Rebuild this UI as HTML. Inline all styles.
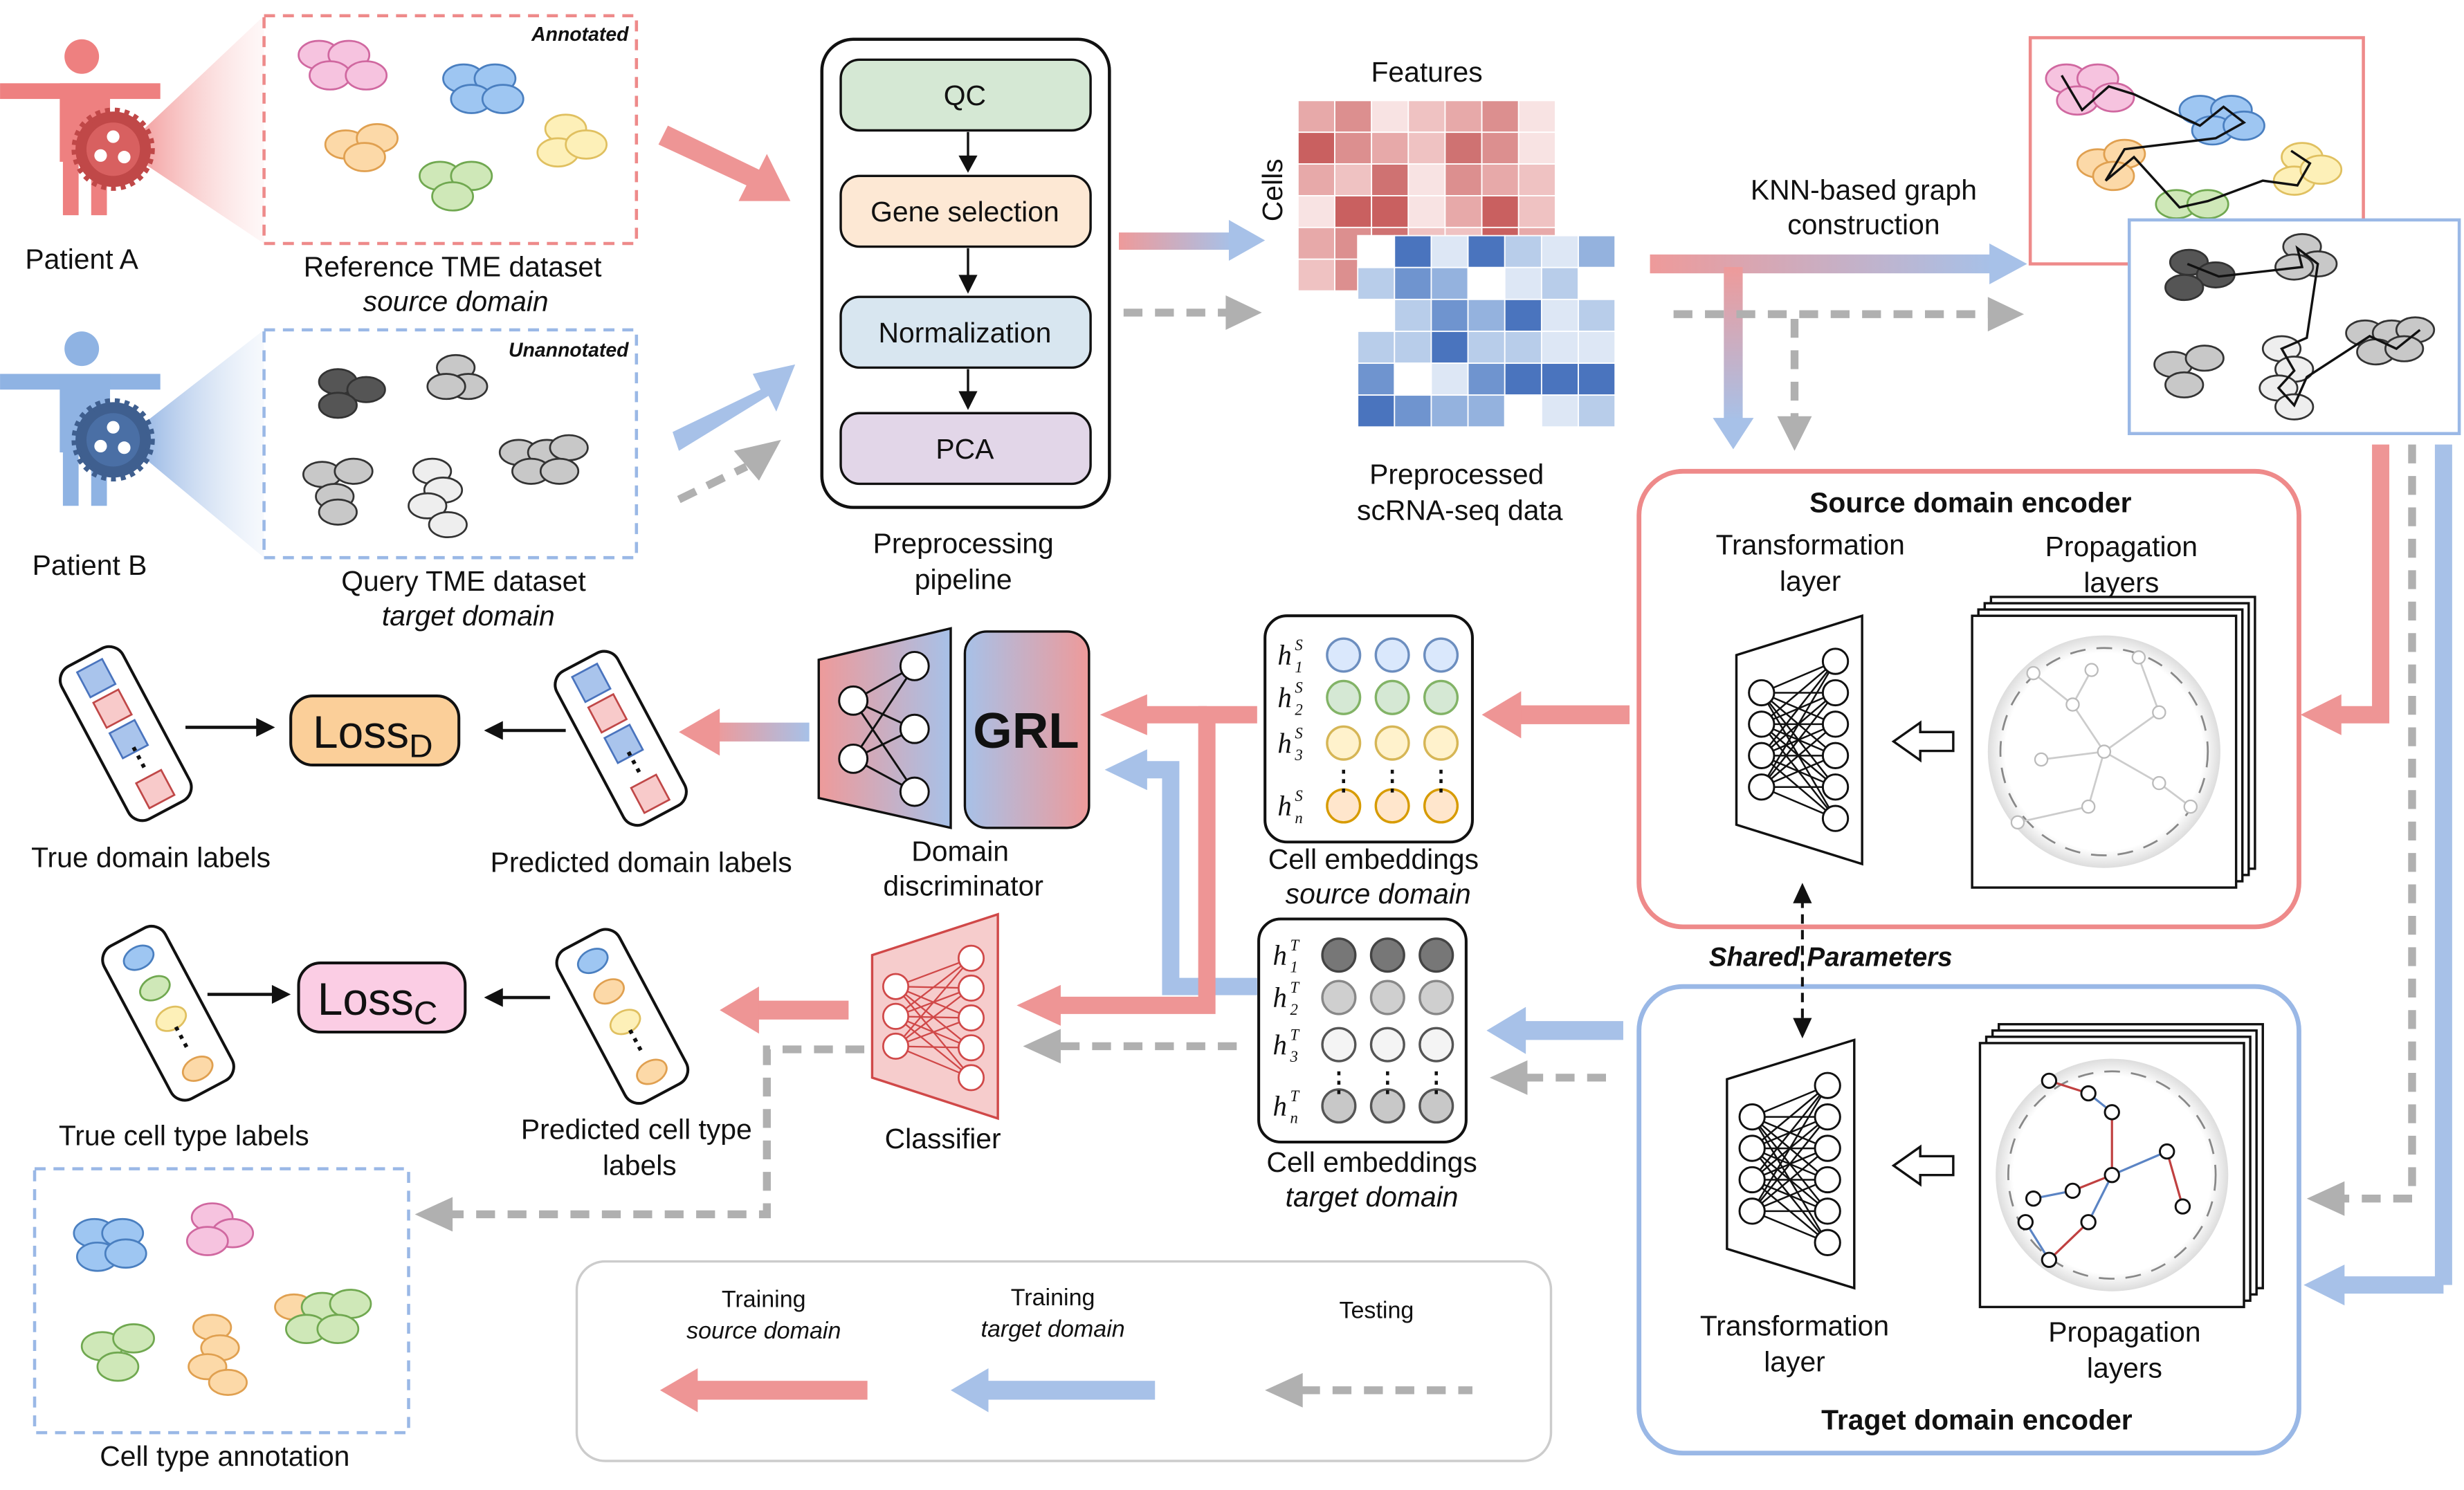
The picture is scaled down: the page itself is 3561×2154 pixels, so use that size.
<!DOCTYPE html>
<html><head><meta charset="utf-8"><style>
html,body{margin:0;padding:0;background:#fff}
svg{display:block}
text{font-family:"Liberation Sans",sans-serif;fill:#111}
.t{font-size:18px;text-anchor:middle}
.i{font-style:italic}
.m{font-family:"Liberation Serif",serif;font-style:italic;font-size:18px}
</style></head><body>
<svg width="3561" height="2154" viewBox="0 0 1568 948.5" xmlns="http://www.w3.org/2000/svg">
<defs>
<linearGradient id="pb" x1="0" x2="1"><stop offset="0" stop-color="#ee9a9a"/><stop offset="1" stop-color="#a7c1e8"/></linearGradient>
<linearGradient id="bp" x1="0" x2="1"><stop offset="0" stop-color="#a7c1e8"/><stop offset="1" stop-color="#ee9a9a"/></linearGradient>
<linearGradient id="pbv" x1="0" y1="0" x2="0" y2="1"><stop offset="0" stop-color="#ee9a9a"/><stop offset="1" stop-color="#a7c1e8"/></linearGradient>
<linearGradient id="fanP" x1="0" x2="1"><stop offset="0" stop-color="#f08a8a"/><stop offset="1" stop-color="#fde6e6" stop-opacity="0.3"/></linearGradient>
<linearGradient id="fanB" x1="0" x2="1"><stop offset="0" stop-color="#7fa6de"/><stop offset="1" stop-color="#e3ecf8" stop-opacity="0.3"/></linearGradient>
<radialGradient id="glow"><stop offset="0.85" stop-color="#fff"/><stop offset="1" stop-color="#ddd"/></radialGradient>
</defs>

<!-- Patient A -->
<g fill="#ee8080">
<circle cx="52" cy="36" r="11"/>
<rect x="0" y="53" width="102" height="10"/>
<rect x="38" y="53" width="32" height="50"/>
<rect x="40" y="100" width="10" height="37"/><rect x="58" y="100" width="10" height="37"/>
</g>
<polygon points="78,95 168,10 168,155" fill="url(#fanP)"/>
<circle cx="72" cy="95" r="24" fill="#c04848" stroke="#c04848" stroke-width="5" stroke-dasharray="3 3"/>
<circle cx="72" cy="95" r="17" fill="#d86060"/>
<circle cx="72" cy="87" r="4" fill="#fff"/><circle cx="64" cy="99" r="4" fill="#fff"/><circle cx="79" cy="100" r="4" fill="#fff"/>
<text class="t" x="52" y="171">Patient A</text>
<!-- Patient B -->
<g fill="#8fb3e3">
<circle cx="52" cy="222" r="11"/>
<rect x="0" y="238" width="102" height="10"/>
<rect x="38" y="238" width="32" height="50"/>
<rect x="40" y="285" width="10" height="37"/><rect x="58" y="285" width="10" height="37"/>
</g>
<polygon points="78,280 168,210 168,355" fill="url(#fanB)"/>
<circle cx="72" cy="280" r="24" fill="#3f5f8f" stroke="#3f5f8f" stroke-width="5" stroke-dasharray="3 3"/>
<circle cx="72" cy="280" r="17" fill="#4a6fa5"/>
<circle cx="72" cy="272" r="4" fill="#fff"/><circle cx="64" cy="284" r="4" fill="#fff"/><circle cx="79" cy="285" r="4" fill="#fff"/>
<text class="t" x="57" y="366">Patient B</text>

<!-- Reference box -->
<rect x="168" y="10" width="237" height="145" fill="#fff" stroke="#ee8a8a" stroke-width="2" stroke-dasharray="7 5"/>
<text x="400" y="26" font-size="12.5" font-weight="bold" font-style="italic" text-anchor="end">Annotated</text>
<g stroke-width="1.2">
<g fill="#f6c3df" stroke="#d068a0"><ellipse cx="203" cy="35" rx="13" ry="9"/><ellipse cx="222" cy="35" rx="13" ry="9"/><ellipse cx="210" cy="48" rx="13" ry="9"/><ellipse cx="233" cy="48" rx="13" ry="9"/></g>
<g fill="#9ec6f2" stroke="#4a7fc0"><ellipse cx="295" cy="50" rx="13" ry="9"/><ellipse cx="315" cy="50" rx="13" ry="9"/><ellipse cx="300" cy="63" rx="13" ry="9"/><ellipse cx="320" cy="63" rx="13" ry="9"/></g>
<g fill="#fcd9a8" stroke="#e0a050"><ellipse cx="220" cy="92" rx="13" ry="9"/><ellipse cx="240" cy="88" rx="13" ry="9"/><ellipse cx="232" cy="100" rx="13" ry="9"/></g>
<g fill="#fdf0b8" stroke="#e0c060"><ellipse cx="360" cy="82" rx="13" ry="9"/><ellipse cx="355" cy="97" rx="13" ry="9"/><ellipse cx="373" cy="92" rx="13" ry="9"/></g>
<g fill="#cfe8b8" stroke="#70a850"><ellipse cx="280" cy="112" rx="13" ry="9"/><ellipse cx="300" cy="112" rx="13" ry="9"/><ellipse cx="288" cy="125" rx="13" ry="9"/></g>
</g>
<text class="t" x="288" y="176">Reference TME dataset</text>
<text class="t i" x="290" y="198">source domain</text>

<!-- Query box -->
<rect x="168" y="210" width="237" height="145" fill="#fff" stroke="#9ab8e6" stroke-width="2" stroke-dasharray="7 5"/>
<text x="400" y="227" font-size="12.5" font-weight="bold" font-style="italic" text-anchor="end">Unannotated</text>
<g stroke-width="1.2" stroke="#333">
<g fill="#555"><ellipse cx="215" cy="243" rx="12" ry="8"/><ellipse cx="233" cy="248" rx="12" ry="8"/><ellipse cx="215" cy="258" rx="12" ry="8"/></g>
<g fill="#c8c8c8"><ellipse cx="290" cy="234" rx="12" ry="8"/><ellipse cx="298" cy="246" rx="12" ry="8"/><ellipse cx="284" cy="246" rx="12" ry="8"/></g>
<g fill="#c8c8c8"><ellipse cx="205" cy="302" rx="12" ry="8"/><ellipse cx="225" cy="300" rx="12" ry="8"/><ellipse cx="213" cy="316" rx="12" ry="8"/><ellipse cx="215" cy="326" rx="12" ry="8"/></g>
<g fill="#eee"><ellipse cx="275" cy="300" rx="12" ry="8"/><ellipse cx="282" cy="312" rx="12" ry="8"/><ellipse cx="272" cy="322" rx="12" ry="8"/><ellipse cx="285" cy="334" rx="12" ry="8"/></g>
<g fill="#c8c8c8"><ellipse cx="330" cy="288" rx="12" ry="8"/><ellipse cx="348" cy="288" rx="12" ry="8"/><ellipse cx="362" cy="285" rx="12" ry="8"/><ellipse cx="338" cy="300" rx="12" ry="8"/><ellipse cx="356" cy="300" rx="12" ry="8"/></g>
</g>
<text class="t" x="295" y="376">Query TME dataset</text>
<text class="t i" x="298" y="398">target domain</text>

<!-- arrows to pipeline -->
<polygon points="425,80 483,108 488,98 503,128 470,128 475,118 419,92" fill="#ee9595"/>
<polygon points="428,275 484,248 479,238 506,232 494,262 489,252 432,287" fill="#a7c1e8"/>
<line x1="432" y1="318" x2="475" y2="297" stroke="#b0b0b0" stroke-width="5" stroke-dasharray="12 8"/>
<polygon points="467,287 497,280 483,306" fill="#b0b0b0"/>

<!-- pipeline -->
<rect x="523" y="25" width="183" height="298" rx="20" fill="#fff" stroke="#111" stroke-width="2"/>
<rect x="535" y="38" width="159" height="45" rx="12" fill="#d5e8d4" stroke="#111" stroke-width="1.5"/>
<text class="t" x="614" y="67" font-size="19">QC</text>
<rect x="535" y="112" width="159" height="45" rx="12" fill="#fde8d4" stroke="#111" stroke-width="1.5"/>
<text class="t" x="614" y="141" font-size="19">Gene selection</text>
<rect x="535" y="189" width="159" height="45" rx="12" fill="#d8e6f0" stroke="#111" stroke-width="1.5"/>
<text class="t" x="614" y="218" font-size="19">Normalization</text>
<rect x="535" y="263" width="159" height="45" rx="12" fill="#e2d6e8" stroke="#111" stroke-width="1.5"/>
<text class="t" x="614" y="292" font-size="19">PCA</text>
<g stroke="#111" stroke-width="1.5"><line x1="616" y1="84" x2="616" y2="102"/><line x1="616" y1="158" x2="616" y2="178"/><line x1="616" y1="235" x2="616" y2="252"/></g>
<g fill="#111"><polygon points="610,99 622,99 616,110"/><polygon points="610,175 622,175 616,187"/><polygon points="610,249 622,249 616,261"/></g>
<text class="t" x="613" y="352">Preprocessing</text>
<text class="t" x="613" y="375">pipeline</text>

<!-- to heatmap -->
<rect x="712" y="148" width="72" height="11" fill="url(#pb)"/>
<polygon points="782,140 805,153 782,166" fill="#a7c1e8"/>
<line x1="715" y1="199" x2="783" y2="199" stroke="#b0b0b0" stroke-width="5" stroke-dasharray="12 8"/>
<polygon points="780,188 803,199 780,210" fill="#b0b0b0"/>

<!-- heatmaps -->
<g stroke="#fff" stroke-width="0.8">
<g id="hp"></g>
<g id="hb"></g>
</g>
<text class="t" x="908" y="52">Features</text>
<text class="t" x="816" y="121" transform="rotate(-90 816 121)">Cells</text>
<text class="t" x="927" y="308">Preprocessed</text>
<text class="t" x="929" y="331">scRNA-seq data</text>

<!-- KNN -->
<text class="t" x="1186" y="127">KNN-based graph</text>
<text class="t" x="1186" y="149">construction</text>
<rect x="1050" y="162" width="218" height="12" fill="url(#pb)"/>
<polygon points="1266,155 1290,168 1266,181" fill="#a7c1e8"/>
<rect x="1097" y="170" width="12" height="98" fill="url(#pbv)"/>
<polygon points="1090,266 1116,266 1103,286" fill="#a7c1e8"/>
<line x1="1065" y1="200" x2="1268" y2="200" stroke="#b0b0b0" stroke-width="5" stroke-dasharray="12 8"/>
<polygon points="1265,189 1288,200 1265,211" fill="#b0b0b0"/>
<line x1="1142" y1="203" x2="1142" y2="268" stroke="#b0b0b0" stroke-width="5" stroke-dasharray="12 8"/>
<polygon points="1131,265 1153,265 1142,287" fill="#b0b0b0"/>

<!-- graph boxes -->
<rect x="1292" y="24" width="212" height="144" fill="#fff" stroke="#ee8a8a" stroke-width="2"/>
<g stroke-width="1.2">
<g fill="#f6c3df" stroke="#d068a0"><ellipse cx="1315" cy="50" rx="13" ry="9"/><ellipse cx="1335" cy="50" rx="13" ry="9"/><ellipse cx="1322" cy="64" rx="13" ry="9"/><ellipse cx="1345" cy="62" rx="13" ry="9"/></g>
<g fill="#9ec6f2" stroke="#4a7fc0"><ellipse cx="1400" cy="70" rx="13" ry="9"/><ellipse cx="1420" cy="70" rx="13" ry="9"/><ellipse cx="1408" cy="83" rx="13" ry="9"/><ellipse cx="1428" cy="80" rx="13" ry="9"/></g>
<g fill="#fcd9a8" stroke="#e0a050"><ellipse cx="1335" cy="104" rx="13" ry="9"/><ellipse cx="1352" cy="98" rx="13" ry="9"/><ellipse cx="1345" cy="112" rx="13" ry="9"/></g>
<g fill="#fdf0b8" stroke="#e0c060"><ellipse cx="1465" cy="100" rx="13" ry="9"/><ellipse cx="1460" cy="115" rx="13" ry="9"/><ellipse cx="1477" cy="108" rx="13" ry="9"/></g>
<g fill="#cfe8b8" stroke="#70a850"><ellipse cx="1385" cy="130" rx="13" ry="9"/><ellipse cx="1405" cy="130" rx="13" ry="9"/></g>
</g>
<polyline points="1312,48 1325,70 1342,55 1358,60 1400,80 1415,68 1428,78 1410,88 1352,95 1340,115 1358,100 1387,132 1405,128 1440,115 1462,118 1470,104 1458,96" fill="none" stroke="#111" stroke-width="1.5"/>
<rect x="1355" y="140" width="210" height="136" fill="#fff" stroke="#9ab8e6" stroke-width="2"/>
<g stroke="#333" stroke-width="1.2">
<g fill="#555"><ellipse cx="1393" cy="167" rx="12" ry="8"/><ellipse cx="1410" cy="175" rx="12" ry="8"/><ellipse cx="1390" cy="183" rx="12" ry="8"/></g>
<g fill="#c8c8c8"><ellipse cx="1465" cy="157" rx="12" ry="8"/><ellipse cx="1475" cy="168" rx="12" ry="8"/><ellipse cx="1460" cy="170" rx="12" ry="8"/></g>
<g fill="#c8c8c8"><ellipse cx="1383" cy="232" rx="12" ry="8"/><ellipse cx="1403" cy="228" rx="12" ry="8"/><ellipse cx="1390" cy="245" rx="12" ry="8"/></g>
<g fill="#eee"><ellipse cx="1452" cy="222" rx="12" ry="8"/><ellipse cx="1460" cy="235" rx="12" ry="8"/><ellipse cx="1450" cy="247" rx="12" ry="8"/><ellipse cx="1460" cy="259" rx="12" ry="8"/></g>
<g fill="#c8c8c8"><ellipse cx="1505" cy="212" rx="12" ry="8"/><ellipse cx="1522" cy="212" rx="12" ry="8"/><ellipse cx="1537" cy="210" rx="12" ry="8"/><ellipse cx="1512" cy="224" rx="12" ry="8"/><ellipse cx="1530" cy="222" rx="12" ry="8"/></g>
</g>
<polyline points="1392,168 1412,176 1465,170 1462,158 1475,168 1468,215 1452,222 1460,236 1450,247 1460,258 1468,240 1508,214 1525,222 1540,210 M1395,185 1398,230 1390,244 1403,228" fill="none" stroke="#111" stroke-width="1.5"/>

<!-- right connectors -->
<line x1="1555" y1="283" x2="1555" y2="818" stroke="#a7c1e8" stroke-width="11"/>
<line x1="1555" y1="818" x2="1490" y2="818" stroke="#a7c1e8" stroke-width="11"/>
<polygon points="1492,805 1466,818 1492,831" fill="#a7c1e8"/>
<line x1="1535" y1="283" x2="1535" y2="763" stroke="#b0b0b0" stroke-width="5" stroke-dasharray="12 8"/>
<line x1="1535" y1="763" x2="1490" y2="763" stroke="#b0b0b0" stroke-width="5" stroke-dasharray="12 8"/>
<polygon points="1492,752 1468,763 1492,774" fill="#b0b0b0"/>
<polyline points="1515,283 1515,455 1488,455" fill="none" stroke="#ee9595" stroke-width="11"/>
<polygon points="1490,442 1464,455 1490,468" fill="#ee9595"/>

<!-- Source encoder -->
<rect x="1043" y="300" width="420" height="290" rx="28" fill="#fff" stroke="#ee8a8a" stroke-width="3"/>
<text class="t" x="1254" y="326" font-weight="bold">Source domain encoder</text>
<text class="t" x="1152" y="353">Transformation</text><text class="t" x="1152" y="376">layer</text>
<text class="t" x="1350" y="354">Propagation</text><text class="t" x="1350" y="377">layers</text>
<g id="nn1"></g>
<polygon points="1205,472 1222,460 1222,466 1243,466 1243,478 1222,478 1222,484" fill="#fff" stroke="#111" stroke-width="1.5"/>
<g id="pl1"></g>

<!-- Target encoder -->
<rect x="1043" y="628" width="420" height="297" rx="28" fill="#fff" stroke="#9ab8e6" stroke-width="3"/>
<text class="t" x="1142" y="850">Transformation</text><text class="t" x="1142" y="873">layer</text>
<text class="t" x="1352" y="854">Propagation</text><text class="t" x="1352" y="877">layers</text>
<text class="t" x="1258" y="910" font-weight="bold">Traget domain encoder</text>
<g id="nn2"></g>
<polygon points="1205,742 1222,730 1222,736 1243,736 1243,748 1222,748 1222,754" fill="#fff" stroke="#111" stroke-width="1.5"/>
<g id="pl2"></g>

<!-- shared -->
<text x="1165" y="615" font-size="17" font-weight="bold" font-style="italic" text-anchor="middle">Shared Parameters</text>
<line x1="1147" y1="572" x2="1147" y2="650" stroke="#111" stroke-width="1.8" stroke-dasharray="6 4"/>
<polygon points="1141,575 1153,575 1147,562" fill="#111"/><polygon points="1141,648 1153,648 1147,661" fill="#111"/>

<!-- encoder to embeddings -->
<rect x="965" y="449" width="72" height="12" fill="#ee9595"/>
<polygon points="968,440 943,455 968,470" fill="#ee9595"/>
<rect x="968" y="650" width="65" height="12" fill="#a7c1e8"/>
<polygon points="971,641 946,656 971,671" fill="#a7c1e8"/>
<line x1="970" y1="686" x2="1030" y2="686" stroke="#b0b0b0" stroke-width="5" stroke-dasharray="12 8"/>
<polygon points="972,675 948,686 972,697" fill="#b0b0b0"/>

<!-- embeddings -->
<rect x="805" y="392" width="132" height="144" rx="14" fill="#fff" stroke="#111" stroke-width="1.8"/>
<rect x="801" y="585" width="132" height="142" rx="14" fill="#fff" stroke="#111" stroke-width="1.8"/>
<g id="emb"></g>
<text class="t" x="874" y="553">Cell embeddings</text>
<text class="t i" x="877" y="575">source domain</text>
<text class="t" x="873" y="746">Cell embeddings</text>
<text class="t i" x="873" y="768">target domain</text>

<!-- pink & blue into GRL / classifier -->
<polyline points="800,628 745,628 745,490 728,490" fill="none" stroke="#a7c1e8" stroke-width="11"/>
<polygon points="730,477 703,490 730,503" fill="#a7c1e8"/>
<polyline points="800,455 768,455 768,640 672,640" fill="none" stroke="#ee9595" stroke-width="11"/>
<line x1="768" y1="455" x2="728" y2="455" stroke="#ee9595" stroke-width="11"/>
<polygon points="730,442 700,455 730,468" fill="#ee9595"/>
<polygon points="675,627 647,640 675,653" fill="#ee9595"/>
<line x1="675" y1="666" x2="790" y2="666" stroke="#b0b0b0" stroke-width="5" stroke-dasharray="12 8"/>
<polygon points="675,655 651,666 675,677" fill="#b0b0b0"/>

<!-- GRL & discriminator -->
<rect x="614" y="402" width="79" height="125" rx="14" fill="url(#bp)" stroke="#111" stroke-width="1.5"/>
<text x="653" y="476" font-size="32" font-weight="bold" text-anchor="middle">GRL</text>
<polygon points="521,420 605,400 605,527 521,508" fill="url(#pb)" stroke="#111" stroke-width="1.5"/>
<g stroke="#111" stroke-width="1.3"><line x1="543" y1="446" x2="582" y2="424"/><line x1="543" y1="446" x2="582" y2="464"/><line x1="543" y1="446" x2="582" y2="504"/><line x1="543" y1="483" x2="582" y2="424"/><line x1="543" y1="483" x2="582" y2="464"/><line x1="543" y1="483" x2="582" y2="504"/></g>
<g fill="#fff" stroke="#111" stroke-width="1.3"><circle cx="543" cy="446" r="9"/><circle cx="543" cy="483" r="9"/><circle cx="582" cy="424" r="9"/><circle cx="582" cy="464" r="9"/><circle cx="582" cy="504" r="9"/></g>
<text class="t" x="611" y="548">Domain</text><text class="t" x="613" y="570">discriminator</text>

<!-- classifier -->
<polygon points="555,608 635,582 635,712 555,686" fill="#f6cccc" stroke="#d04848" stroke-width="1.5"/>
<g id="cls"></g>
<text class="t" x="600" y="731">Classifier</text>

<!-- to predicted -->
<rect x="455" y="460" width="60" height="12" fill="url(#pb)"/>
<polygon points="458,451 432,466 458,481" fill="#ee9595"/>
<rect x="480" y="637" width="60" height="12" fill="#ee9595"/>
<polygon points="483,628 458,643 483,658" fill="#ee9595"/>
<polyline points="550,668 488,668 488,773 285,773" fill="none" stroke="#b0b0b0" stroke-width="5" stroke-dasharray="12 8"/>
<polygon points="288,762 264,773 288,784" fill="#b0b0b0"/>

<!-- capsules -->
<g id="caps"></g>
<rect x="185" y="443" width="107" height="44" rx="14" fill="#fbcf99" stroke="#111" stroke-width="1.8"/>
<text x="199" y="476" font-size="29">Loss<tspan font-size="21" dy="6">D</tspan></text>
<rect x="190" y="613" width="106" height="44" rx="14" fill="#fbcde4" stroke="#111" stroke-width="1.8"/>
<text x="202" y="646" font-size="29">Loss<tspan font-size="21" dy="6">C</tspan></text>
<g stroke="#111" stroke-width="2"><line x1="118" y1="463" x2="165" y2="463"/><line x1="360" y1="465" x2="318" y2="465"/><line x1="132" y1="633" x2="175" y2="633"/><line x1="350" y1="635" x2="318" y2="635"/></g>
<g fill="#111"><polygon points="163,457 175,463 163,469"/><polygon points="320,459 308,465 320,471"/><polygon points="173,627 185,633 173,639"/><polygon points="320,629 308,635 320,641"/></g>
<text class="t" x="96" y="552">True domain labels</text>
<text class="t" x="408" y="555">Predicted domain labels</text>
<text class="t" x="117" y="729">True cell type labels</text>
<text class="t" x="405" y="725">Predicted cell type</text>
<text class="t" x="407" y="748">labels</text>

<!-- annotation box -->
<rect x="22" y="744" width="238" height="168" fill="#fff" stroke="#9ab8e6" stroke-width="2" stroke-dasharray="7 5"/>
<g stroke-width="1.2">
<g fill="#9ec6f2" stroke="#4a7fc0"><ellipse cx="60" cy="785" rx="13" ry="9"/><ellipse cx="78" cy="785" rx="13" ry="9"/><ellipse cx="62" cy="800" rx="13" ry="9"/><ellipse cx="80" cy="798" rx="13" ry="9"/></g>
<g fill="#f6c3df" stroke="#d068a0"><ellipse cx="135" cy="775" rx="13" ry="9"/><ellipse cx="148" cy="785" rx="13" ry="9"/><ellipse cx="132" cy="790" rx="13" ry="9"/></g>
<g fill="#cfe8b8" stroke="#70a850"><ellipse cx="65" cy="857" rx="13" ry="9"/><ellipse cx="85" cy="852" rx="13" ry="9"/><ellipse cx="75" cy="870" rx="13" ry="9"/></g>
<g fill="#fcd9a8" stroke="#e0a050"><ellipse cx="135" cy="845" rx="12" ry="8"/><ellipse cx="140" cy="858" rx="12" ry="8"/><ellipse cx="132" cy="870" rx="12" ry="8"/><ellipse cx="145" cy="880" rx="12" ry="8"/></g>
<g fill="#fcd9a8" stroke="#e0a050"><ellipse cx="187" cy="832" rx="12" ry="8"/></g>
<g fill="#cfe8b8" stroke="#70a850"><ellipse cx="205" cy="832" rx="13" ry="9"/><ellipse cx="223" cy="830" rx="13" ry="9"/><ellipse cx="195" cy="846" rx="13" ry="9"/><ellipse cx="215" cy="846" rx="13" ry="9"/></g>
</g>
<text class="t" x="143" y="933">Cell type annotation</text>

<!-- legend -->
<rect x="367" y="803" width="620" height="127" rx="18" fill="#fff" stroke="#ccc" stroke-width="1.5"/>
<text x="486" y="832" font-size="15" text-anchor="middle">Training</text>
<text x="486" y="852" font-size="15" font-style="italic" text-anchor="middle">source domain</text>
<text x="670" y="831" font-size="15" text-anchor="middle">Training</text>
<text x="670" y="851" font-size="15" font-style="italic" text-anchor="middle">target domain</text>
<text x="876" y="839" font-size="15" text-anchor="middle">Testing</text>
<rect x="440" y="879" width="112" height="12" fill="#ee9595"/>
<polygon points="444,871 420,885 444,899" fill="#ee9595"/>
<rect x="625" y="879" width="110" height="12" fill="#a7c1e8"/>
<polygon points="629,871 605,885 629,899" fill="#a7c1e8"/>
<line x1="828" y1="885" x2="937" y2="885" stroke="#b0b0b0" stroke-width="5" stroke-dasharray="12 8"/>
<polygon points="829,874 805,885 829,896" fill="#b0b0b0"/>
</svg>
<script>
const NS="http://www.w3.org/2000/svg";
function el(p,t,a){const e=document.createElementNS(NS,t);for(const k in a)e.setAttribute(k,a[k]);p.appendChild(e);return e;}
let seed=7;function rnd(){seed=(seed*9301+49297)%233280;return seed/233280;}
const pinks=["#f8e3e3","#efc2c2","#e7a9a9","#dc8f8f","#cf7272","#c96060"];
const blues=["#ffffff","#dde7f5","#b8cdea","#94b2de","#6f94cf","#4a74be"];
const hp=document.getElementById("hp"),hb=document.getElementById("hb");
for(let r=0;r<6;r++)for(let c=0;c<7;c++)el(hp,"rect",{x:826+c*23.4,y:64+r*20.2,width:23.4,height:20.2,fill:pinks[Math.floor(rnd()*6)]});
for(let r=0;r<6;r++)for(let c=0;c<7;c++)el(hb,"rect",{x:864+c*23.4,y:150+r*20.3,width:23.4,height:20.3,fill:blues[Math.floor(rnd()*6)]});
function nn(g,x0,y0,x1,y1){
 el(g,"polygon",{points:`${x0},${y0+25} ${x1},${y0} ${x1},${y1} ${x0},${y1-25}`,fill:"#fff",stroke:"#111","stroke-width":1.5});
 const L=[],R=[];const cy=(y0+y1)/2;
 for(let i=0;i<4;i++)L.push([x0+16,cy-30+i*20]);
 for(let i=0;i<6;i++)R.push([x1-17,cy-50+i*20]);
 L.forEach(a=>R.forEach(b=>el(g,"line",{x1:a[0],y1:a[1],x2:b[0],y2:b[1],stroke:"#111","stroke-width":1.1})));
 L.concat(R).forEach(p=>el(g,"circle",{cx:p[0],cy:p[1],r:8,fill:"#fff",stroke:"#111","stroke-width":1.3}));
}
nn(document.getElementById("nn1"),1105,392,1185,550);
nn(document.getElementById("nn2"),1099,662,1180,820);
function pl(g,x,y,w,h){
 for(let i=3;i>=0;i--)el(g,"rect",{x:x+i*4,y:y-i*4,width:w,height:h,fill:"#fff",stroke:"#111","stroke-width":1.5});
 const cx=x+w/2,cy=y+h/2;
 el(g,"circle",{cx:cx,cy:cy,r:Math.min(w,h)/2-10,fill:"url(#glow)"});
 el(g,"circle",{cx:cx,cy:cy,r:Math.min(w,h)/2-18,fill:"none",stroke:"#888","stroke-width":1.2,"stroke-dasharray":"10 7"});
 return [cx,cy];
}
let [c1x,c1y]=pl(document.getElementById("pl1"),1255,392,168,173);
{const g=document.getElementById("pl1");const N=[[-45,-50],[-20,-30],[-8,-52],[0,0],[35,-25],[-40,5],[-10,35],[35,20],[-55,45],[55,35],[22,-60]];
 const E=[[0,1],[1,2],[1,3],[3,4],[3,5],[3,6],[6,8],[3,7],[7,9],[4,10]];
 E.forEach(e=>el(g,"line",{x1:c1x+N[e[0]][0],y1:c1y+N[e[0]][1],x2:c1x+N[e[1]][0],y2:c1y+N[e[1]][1],stroke:"#ccc","stroke-width":1.2}));
 N.forEach(n=>el(g,"circle",{cx:c1x+n[0],cy:c1y+n[1],r:4,fill:"#fff",stroke:"#bbb"}));}
let [c2x,c2y]=pl(document.getElementById("pl2"),1260,664,168,168);
{const g=document.getElementById("pl2");const N=[[-40,-60],[-15,-52],[0,0],[-25,10],[-50,15],[-55,30],[-40,54],[-15,30],[35,-15],[45,20],[0,-40]];
 const E=[[0,1],[1,10],[10,2],[8,2],[9,8],[7,2],[3,2],[4,3],[6,7],[5,6]];
 E.forEach((e,i)=>el(g,"line",{x1:c2x+N[e[0]][0],y1:c2y+N[e[0]][1],x2:c2x+N[e[1]][0],y2:c2y+N[e[1]][1],stroke:i%2?"#5b84c4":"#c04040","stroke-width":1.4}));
 N.forEach(n=>el(g,"circle",{cx:c2x+n[0],cy:c2y+n[1],r:4.5,fill:"#fff",stroke:"#111","stroke-width":1.3}));}
const emb=document.getElementById("emb");
function embed(x0,sup,cols,pos){
 const labs=["1","2","3","n"];
 pos.forEach((yy,i)=>{
  const t=el(emb,"text",{x:x0,y:yy+6,class:"m"});t.textContent="h";
  const s=el(emb,"text",{x:x0+11,y:yy-3,class:"m",style:"font-size:10px"});s.textContent=sup;
  const b=el(emb,"text",{x:x0+11,y:yy+11,class:"m",style:"font-size:10px"});b.textContent=labs[i];
  for(let c=0;c<3;c++)el(emb,"circle",{cx:x0+42+c*31,cy:yy,r:10.5,fill:cols[i][0],stroke:cols[i][1],"stroke-width":1.5});
 });
 for(let c=0;c<3;c++)for(let d=0;d<3;d++)el(emb,"rect",{x:x0+41+c*31,y:pos[2]+17+d*6,width:2,height:2.5,fill:"#111"});
}
embed(813,"S",[["#dae8fc","#6c8ebf"],["#d5e8d4","#82b366"],["#fff2cc","#d6b656"],["#ffe6cc","#d79b00"]],[417,444,473,513]);
embed(810,"T",[["#777","#444"],["#cfcfcf","#888"],["#f4f4f4","#555"],["#c8c8c8","#555"]],[608,635,665,704]);
{const g=document.getElementById("cls");const L=[[570,628],[570,647],[570,666]],R=[[618,610],[618,629],[618,648],[618,667],[618,686]];
 L.forEach(a=>R.forEach(b=>el(g,"line",{x1:a[0],y1:a[1],x2:b[0],y2:b[1],stroke:"#d04848","stroke-width":1})));
 L.concat(R).forEach(p=>el(g,"circle",{cx:p[0],cy:p[1],r:8,fill:"#fff",stroke:"#d04848","stroke-width":1.2}));}
const caps=document.getElementById("caps");
function cap(cx,cy,ang,items){
 const g=el(caps,"g",{transform:`translate(${cx},${cy}) rotate(${ang})`});
 el(g,"rect",{x:-22,y:-55,width:44,height:110,rx:10,fill:"#fff",stroke:"#111","stroke-width":1.8});
 items.forEach((it,i)=>{
  const y=-40+i*22+(i==3?14:0);
  if(it[0]=="sq")el(g,"rect",{x:-9,y:y-9,width:18,height:18,fill:it[1],stroke:it[2],"stroke-width":1.2});
  else el(g,"ellipse",{cx:0,cy:y,rx:10,ry:7,fill:it[1],stroke:it[2],"stroke-width":1.2});
 });
 for(let d=0;d<3;d++)el(g,"rect",{x:-1,y:18+d*6-8,width:2.5,height:2.5,fill:"#111"});
}
const B=["sq","#a9c4ec","#4a74be"],P=["sq","#f8caca","#c04848"];
cap(80,467,-28,[B,P,B,P]);
cap(395,470,-28,[B,P,B,P]);
cap(107,645,-28,[["e","#9ec6f2","#4a7fc0"],["e","#cfe8b8","#70a850"],["e","#fdf0b8","#e0c060"],["e","#fcd9a8","#e0a050"]]);
cap(396,647,-28,[["e","#9ec6f2","#4a7fc0"],["e","#fcd9a8","#e0a050"],["e","#fdf0b8","#e0c060"],["e","#fcd9a8","#e0a050"]]);
</script>
</body></html>
